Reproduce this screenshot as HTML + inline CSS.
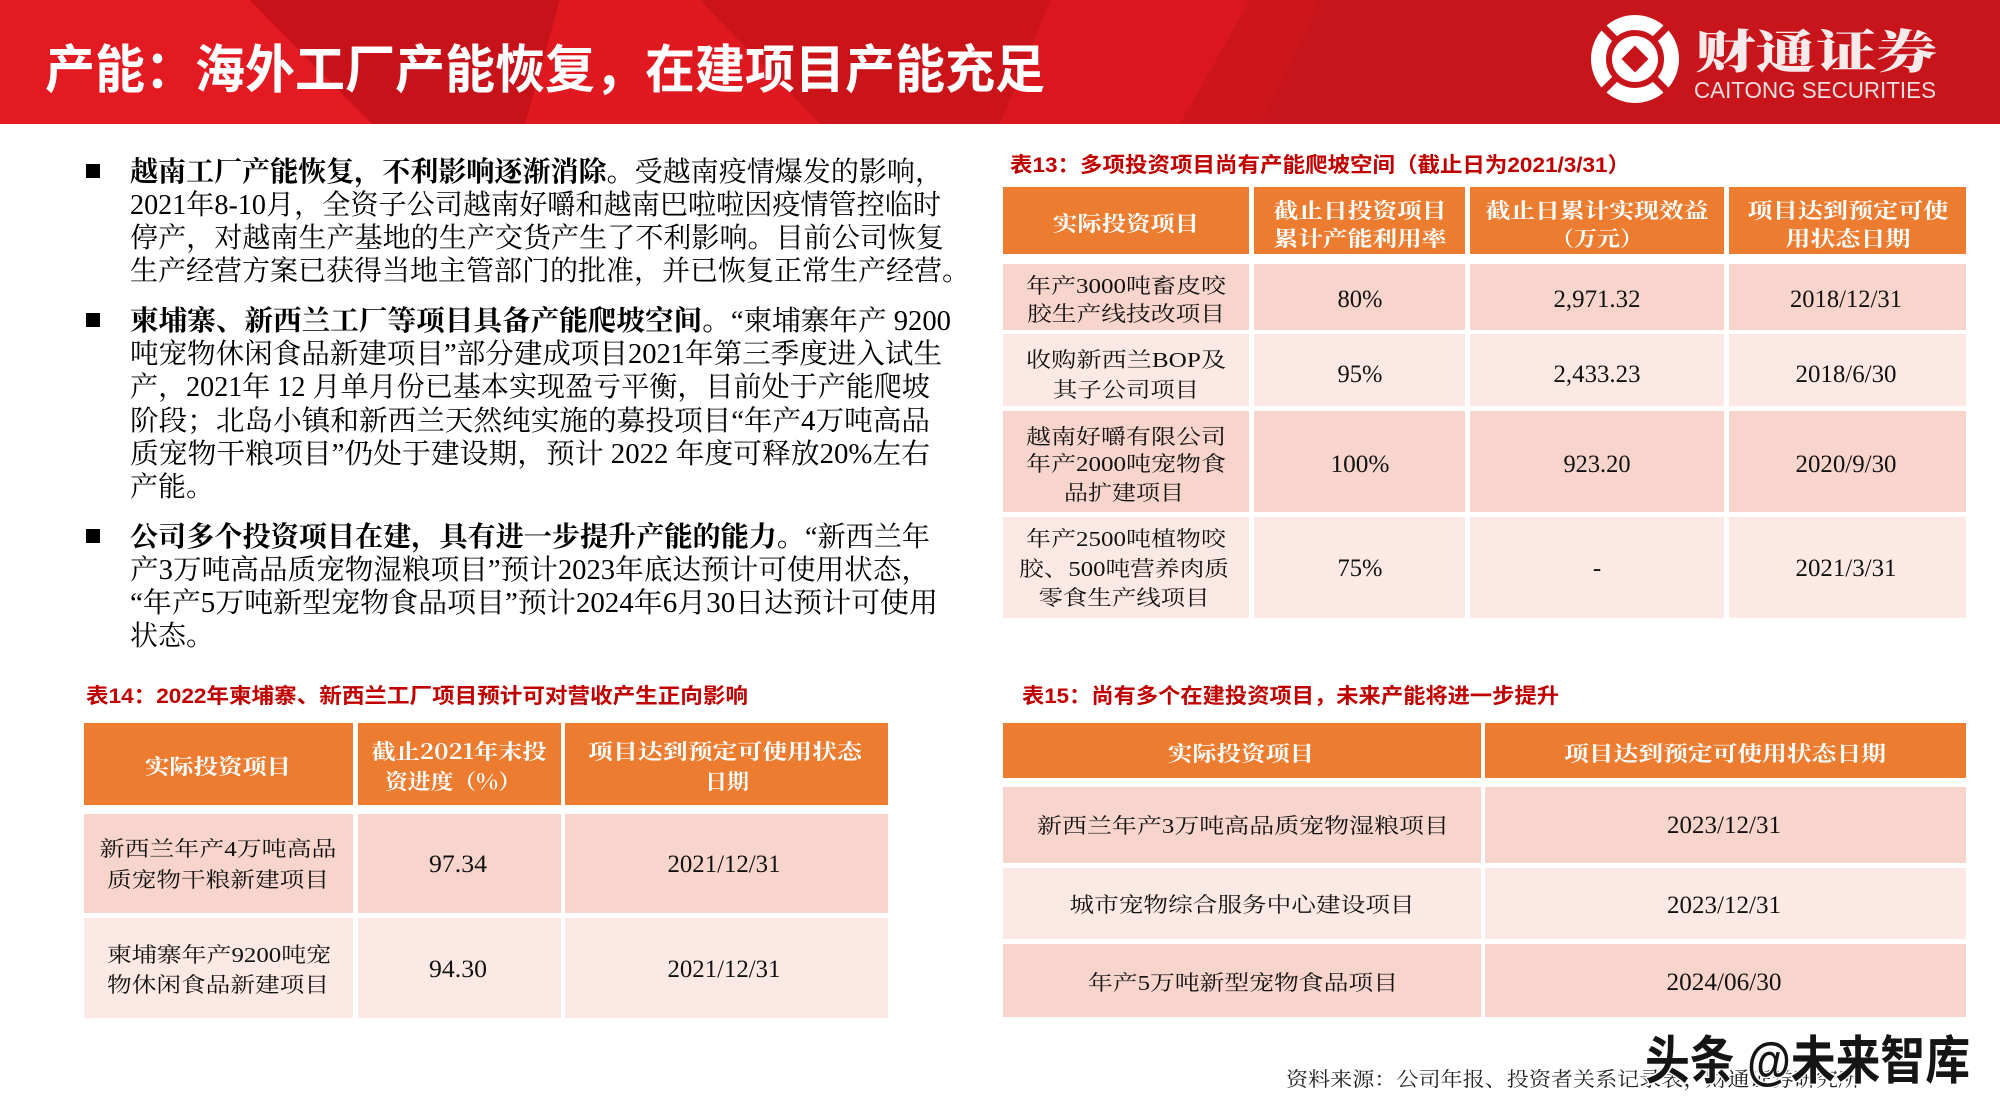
<!DOCTYPE html>
<html><head><meta charset="utf-8"><style>
html,body{margin:0;padding:0;background:#fff;}
svg{display:block;}
.b{font-family:"Liberation Serif","Noto Serif CJK SC",serif;font-size:28px;fill:#000;}
.bb{font-weight:700;}
.tt{font-family:"Liberation Sans","Noto Sans CJK SC",sans-serif;font-weight:700;font-size:21px;fill:#c00000;}
.h{font-family:"Noto Serif CJK SC",serif;font-weight:700;font-size:21px;fill:#fff;}
.c{font-family:"Liberation Serif","Noto Serif CJK SC",serif;font-size:21px;fill:#111;}
.v{font-family:"Liberation Serif",serif;font-size:25px;fill:#111;}
</style></head><body>
<svg width="2000" height="1120" viewBox="0 0 2000 1120" xmlns="http://www.w3.org/2000/svg">
<!-- header band -->
<rect x="0" y="0" width="2000" height="124" fill="#d2151c"/>
<polygon points="0,0 250,0 372,124 0,124" fill="#e31a21"/>
<polygon points="250,0 560,0 525,124 372,124" fill="#c8121a"/>
<polygon points="560,0 700,0 820,124 525,124" fill="#e01920"/>
<polygon points="700,0 1050,0 1000,124 820,124" fill="#cb131a"/>
<polygon points="1050,0 1250,0 1180,124 1000,124" fill="#da171e"/>
<rect x="1250" y="0" width="750" height="124" fill="#c8141b"/>
<polygon points="1180,124 1250,0 1320,0 1260,124" fill="#cd151c"/>
<text x="45" y="88" font-family="'Liberation Sans','Noto Sans CJK SC',sans-serif" font-weight="700" font-size="52" fill="#fff" textLength="1000" lengthAdjust="spacingAndGlyphs">产能：海外工厂产能恢复，在建项目产能充足</text>
<!-- logo -->
<g>
<circle cx="1635" cy="59" r="36.5" fill="none" stroke="#fff" stroke-width="15"/>
<g stroke="#c8141b" stroke-width="7">
<line x1="1652" y1="42" x2="1672" y2="22"/>
<line x1="1618" y1="42" x2="1598" y2="22"/>
<line x1="1652" y1="76" x2="1672" y2="96"/>
<line x1="1618" y1="76" x2="1598" y2="96"/>
</g>
<circle cx="1635" cy="59" r="23" fill="#fff"/>
<polygon points="1635,45.5 1648.5,59 1635,72.5 1621.5,59" fill="#c8141b"/>
</g>
<text x="1695" y="68" font-family="'Noto Serif CJK SC',serif" font-weight="900" font-size="46" fill="#f7eaea" textLength="242" lengthAdjust="spacingAndGlyphs">财通证券</text>
<text x="1694" y="98" font-family="'Liberation Sans',sans-serif" font-size="23" fill="#f2dede" textLength="242" lengthAdjust="spacingAndGlyphs">CAITONG SECURITIES</text>

<!-- bullets -->
<rect x="86" y="164" width="14" height="14" fill="#000"/>
<rect x="86" y="313" width="14" height="14" fill="#000"/>
<rect x="86" y="529" width="14" height="14" fill="#000"/>

<text class="b" x="130" y="181" textLength="813" lengthAdjust="spacingAndGlyphs"><tspan class="bb">越南工厂产能恢复，不利影响逐渐消除。</tspan>受越南疫情爆发的影响，</text>
<text class="b" x="130" y="214" textLength="811" lengthAdjust="spacingAndGlyphs">2021年8-10月，全资子公司越南好嚼和越南巴啦啦因疫情管控临时</text>
<text class="b" x="130" y="247" textLength="814" lengthAdjust="spacingAndGlyphs">停产，对越南生产基地的生产交货产生了不利影响。目前公司恢复</text>
<text class="b" x="130" y="280" textLength="840" lengthAdjust="spacingAndGlyphs">生产经营方案已获得当地主管部门的批准，并已恢复正常生产经营。</text>

<text class="b" x="130" y="330" textLength="821" lengthAdjust="spacingAndGlyphs"><tspan class="bb">柬埔寨、新西兰工厂等项目具备产能爬坡空间。</tspan>“柬埔寨年产 9200</text>
<text class="b" x="130" y="363" textLength="812" lengthAdjust="spacingAndGlyphs">吨宠物休闲食品新建项目”部分建成项目2021年第三季度进入试生</text>
<text class="b" x="130" y="396" textLength="800" lengthAdjust="spacingAndGlyphs">产，2021年 12 月单月份已基本实现盈亏平衡，目前处于产能爬坡</text>
<text class="b" x="130" y="430" textLength="800" lengthAdjust="spacingAndGlyphs">阶段；北岛小镇和新西兰天然纯实施的募投项目“年产4万吨高品</text>
<text class="b" x="130" y="463" textLength="800" lengthAdjust="spacingAndGlyphs">质宠物干粮项目”仍处于建设期，预计 2022 年度可释放20%左右</text>
<text class="b" x="130" y="496">产能。</text>

<text class="b" x="130" y="546" textLength="800" lengthAdjust="spacingAndGlyphs"><tspan class="bb">公司多个投资项目在建，具有进一步提升产能的能力。</tspan>“新西兰年</text>
<text class="b" x="130" y="579" textLength="800" lengthAdjust="spacingAndGlyphs">产3万吨高品质宠物湿粮项目”预计2023年底达预计可使用状态，</text>
<text class="b" x="130" y="612" textLength="808" lengthAdjust="spacingAndGlyphs">“年产5万吨新型宠物食品项目”预计2024年6月30日达预计可使用</text>
<text class="b" x="130" y="645">状态。</text>

<!-- Table 13 -->
<text class="tt" x="1010" y="172" textLength="620" lengthAdjust="spacingAndGlyphs">表13：多项投资项目尚有产能爬坡空间（截止日为2021/3/31）</text>
<g fill="#ec7c30">
<rect x="1003" y="187" width="246" height="67"/>
<rect x="1254" y="187" width="211" height="67"/>
<rect x="1470" y="187" width="254" height="67"/>
<rect x="1729" y="187" width="237" height="67"/>
</g>
<g fill="#f8d5cc">
<rect x="1003" y="264" width="246" height="66"/><rect x="1254" y="264" width="211" height="66"/><rect x="1470" y="264" width="254" height="66"/><rect x="1729" y="264" width="237" height="66"/>
<rect x="1003" y="411" width="246" height="101"/><rect x="1254" y="411" width="211" height="101"/><rect x="1470" y="411" width="254" height="101"/><rect x="1729" y="411" width="237" height="101"/>
</g>
<g fill="#fce9e5">
<rect x="1003" y="334" width="246" height="72"/><rect x="1254" y="334" width="211" height="72"/><rect x="1470" y="334" width="254" height="72"/><rect x="1729" y="334" width="237" height="72"/>
<rect x="1003" y="517" width="246" height="101"/><rect x="1254" y="517" width="211" height="101"/><rect x="1470" y="517" width="254" height="101"/><rect x="1729" y="517" width="237" height="101"/>
</g>
<g class="h" text-anchor="middle">
<text class="h" x="1126" y="231" textLength="146" lengthAdjust="spacingAndGlyphs">实际投资项目</text>
<text class="h" x="1360" y="218" textLength="173" lengthAdjust="spacingAndGlyphs">截止日投资项目</text>
<text class="h" x="1360" y="246" textLength="173" lengthAdjust="spacingAndGlyphs">累计产能利用率</text>
<text class="h" x="1597" y="218" textLength="223" lengthAdjust="spacingAndGlyphs">截止日累计实现效益</text>
<text class="h" x="1597" y="246" textLength="92" lengthAdjust="spacingAndGlyphs">（万元）</text>
<text class="h" x="1848" y="218" textLength="201" lengthAdjust="spacingAndGlyphs">项目达到预定可使</text>
<text class="h" x="1848" y="246" textLength="125" lengthAdjust="spacingAndGlyphs">用状态日期</text>
</g>
<g text-anchor="middle">
<text class="c" x="1126" y="293" textLength="200" lengthAdjust="spacingAndGlyphs">年产3000吨畜皮咬</text>
<text class="c" x="1126" y="321" textLength="198" lengthAdjust="spacingAndGlyphs">胶生产线技改项目</text>
<text class="c" x="1126" y="367" textLength="200" lengthAdjust="spacingAndGlyphs">收购新西兰BOP及</text>
<text class="c" x="1126" y="397" textLength="146" lengthAdjust="spacingAndGlyphs">其子公司项目</text>
<text class="c" x="1126" y="444" textLength="200" lengthAdjust="spacingAndGlyphs">越南好嚼有限公司</text>
<text class="c" x="1126" y="471" textLength="200" lengthAdjust="spacingAndGlyphs">年产2000吨宠物食</text>
<text class="c" x="1124" y="500" textLength="120" lengthAdjust="spacingAndGlyphs">品扩建项目</text>
<text class="c" x="1126" y="546" textLength="200" lengthAdjust="spacingAndGlyphs">年产2500吨植物咬</text>
<text class="c" x="1124" y="576" textLength="210" lengthAdjust="spacingAndGlyphs">胶、500吨营养肉质</text>
<text class="c" x="1124" y="605" textLength="171" lengthAdjust="spacingAndGlyphs">零食生产线项目</text>

<text class="v" x="1360" y="307" textLength="45" lengthAdjust="spacingAndGlyphs">80%</text>
<text class="v" x="1597" y="307" textLength="87" lengthAdjust="spacingAndGlyphs">2,971.32</text>
<text class="v" x="1846" y="307" textLength="112" lengthAdjust="spacingAndGlyphs">2018/12/31</text>
<text class="v" x="1360" y="382" textLength="45" lengthAdjust="spacingAndGlyphs">95%</text>
<text class="v" x="1597" y="382" textLength="87" lengthAdjust="spacingAndGlyphs">2,433.23</text>
<text class="v" x="1846" y="382" textLength="101" lengthAdjust="spacingAndGlyphs">2018/6/30</text>
<text class="v" x="1360" y="472" textLength="59" lengthAdjust="spacingAndGlyphs">100%</text>
<text class="v" x="1597" y="472" textLength="67" lengthAdjust="spacingAndGlyphs">923.20</text>
<text class="v" x="1846" y="472" textLength="101" lengthAdjust="spacingAndGlyphs">2020/9/30</text>
<text class="v" x="1360" y="576" textLength="45" lengthAdjust="spacingAndGlyphs">75%</text>
<text class="v" x="1597" y="576">-</text>
<text class="v" x="1846" y="576" textLength="101" lengthAdjust="spacingAndGlyphs">2021/3/31</text>
</g>

<!-- Table 14 -->
<text class="tt" x="86" y="703" textLength="662" lengthAdjust="spacingAndGlyphs">表14：2022年柬埔寨、新西兰工厂项目预计可对营收产生正向影响</text>
<g fill="#ec7c30">
<rect x="84" y="723" width="269" height="82"/>
<rect x="358" y="723" width="203" height="82"/>
<rect x="565" y="723" width="323" height="82"/>
</g>
<g fill="#f8d5cc">
<rect x="84" y="814" width="269" height="99"/><rect x="358" y="814" width="203" height="99"/><rect x="565" y="814" width="323" height="99"/>
</g>
<g fill="#fce9e5">
<rect x="84" y="918" width="269" height="100"/><rect x="358" y="918" width="203" height="100"/><rect x="565" y="918" width="323" height="100"/>
</g>
<g text-anchor="middle">
<text class="h" x="218" y="774" textLength="146" lengthAdjust="spacingAndGlyphs">实际投资项目</text>
<text class="h" x="459" y="759" textLength="175" lengthAdjust="spacingAndGlyphs">截止2021年末投</text>
<text class="h" x="453" y="789" textLength="136" lengthAdjust="spacingAndGlyphs">资进度（%）</text>
<text class="h" x="725" y="759" textLength="274" lengthAdjust="spacingAndGlyphs">项目达到预定可使用状态</text>
<text class="h" x="727" y="789" textLength="44" lengthAdjust="spacingAndGlyphs">日期</text>

<text class="c" x="218" y="856" textLength="237" lengthAdjust="spacingAndGlyphs">新西兰年产4万吨高品</text>
<text class="c" x="218" y="887" textLength="222" lengthAdjust="spacingAndGlyphs">质宠物干粮新建项目</text>
<text class="c" x="219" y="962" textLength="224" lengthAdjust="spacingAndGlyphs">柬埔寨年产9200吨宠</text>
<text class="c" x="218" y="992" textLength="222" lengthAdjust="spacingAndGlyphs">物休闲食品新建项目</text>
<text class="v" x="458" y="872" textLength="58" lengthAdjust="spacingAndGlyphs">97.34</text>
<text class="v" x="724" y="872" textLength="113" lengthAdjust="spacingAndGlyphs">2021/12/31</text>
<text class="v" x="458" y="977" textLength="58" lengthAdjust="spacingAndGlyphs">94.30</text>
<text class="v" x="724" y="977" textLength="113" lengthAdjust="spacingAndGlyphs">2021/12/31</text>
</g>

<!-- Table 15 -->
<text class="tt" x="1022" y="703" textLength="537" lengthAdjust="spacingAndGlyphs">表15：尚有多个在建投资项目，未来产能将进一步提升</text>
<g fill="#ec7c30">
<rect x="1003" y="723" width="478" height="55"/>
<rect x="1485" y="723" width="481" height="55"/>
</g>
<g fill="#f8d5cc">
<rect x="1003" y="787" width="478" height="76"/><rect x="1485" y="787" width="481" height="76"/>
<rect x="1003" y="944" width="478" height="73"/><rect x="1485" y="944" width="481" height="73"/>
</g>
<g fill="#fce9e5">
<rect x="1003" y="868" width="478" height="71"/><rect x="1485" y="868" width="481" height="71"/>
</g>
<g text-anchor="middle">
<text class="h" x="1241" y="761" textLength="146" lengthAdjust="spacingAndGlyphs">实际投资项目</text>
<text class="h" x="1725" y="761" textLength="322" lengthAdjust="spacingAndGlyphs">项目达到预定可使用状态日期</text>
<text class="c" x="1243" y="833" textLength="412" lengthAdjust="spacingAndGlyphs">新西兰年产3万吨高品质宠物湿粮项目</text>
<text class="c" x="1242" y="912" textLength="345" lengthAdjust="spacingAndGlyphs">城市宠物综合服务中心建设项目</text>
<text class="c" x="1243" y="990" textLength="310" lengthAdjust="spacingAndGlyphs">年产5万吨新型宠物食品项目</text>
<text class="v" x="1724" y="833" textLength="114" lengthAdjust="spacingAndGlyphs">2023/12/31</text>
<text class="v" x="1724" y="913" textLength="114" lengthAdjust="spacingAndGlyphs">2023/12/31</text>
<text class="v" x="1724" y="990" textLength="115" lengthAdjust="spacingAndGlyphs">2024/06/30</text>
</g>

<!-- footer -->
<text x="1286" y="1086" font-family="'Liberation Serif','Noto Serif CJK SC',serif" font-size="20" fill="#222" textLength="574" lengthAdjust="spacingAndGlyphs">资料来源：公司年报、投资者关系记录表，财通证券研究所</text>
<text x="1645" y="1079" font-family="'Liberation Sans','Noto Sans CJK SC',sans-serif" font-weight="700" font-size="52" fill="#151515" stroke="#fff" stroke-width="3" paint-order="stroke" textLength="325" lengthAdjust="spacingAndGlyphs">头条 @未来智库</text>
</svg>
</body></html>
